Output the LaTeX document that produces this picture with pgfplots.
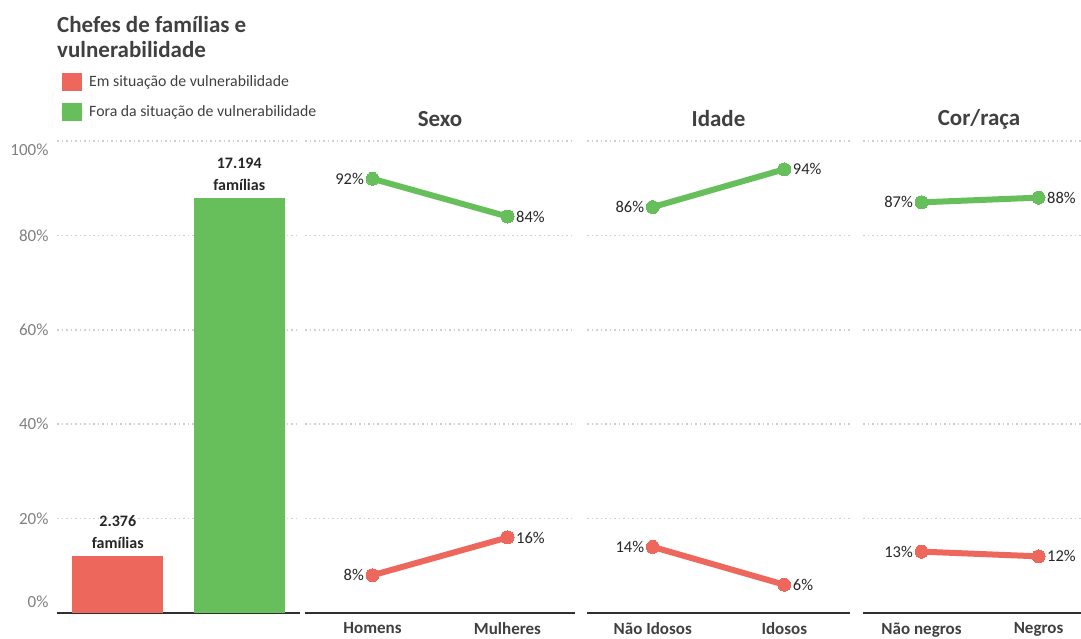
\documentclass[border=0pt]{standalone}
\usepackage{pgfplots}
\pgfplotsset{compat=1.18}
\usepackage{fontspec}
\setmainfont{Carlito}
\definecolor{cred}{HTML}{EE675C}
\definecolor{cgreen}{HTML}{67BF5C}
\definecolor{ctitle}{HTML}{404040}
\definecolor{clabel}{HTML}{262626}
\definecolor{ctick}{HTML}{808080}
\definecolor{cgrid}{HTML}{D0D0D0}
\definecolor{caxis}{HTML}{303030}
\tikzset{lbl/.style={font=\fontsize{16.5}{19}\selectfont, text=clabel, inner sep=0pt}}
\pgfplotsset{
  panel/.style={
    scale only axis, height=472pt, ymin=0, ymax=100, clip=false,
    xmin=-0.5, xmax=1.5,
    axis line style={draw=none}, major tick length=0pt,
    ytick={20,40,60,80,100}, yticklabels={}, ymajorgrids,
    major grid style={cgrid, line width=1.5pt, dash pattern=on 1.5pt off 3pt},
    extra y ticks={0}, extra y tick labels={},
    extra y tick style={major grid style={solid, draw=caxis, line width=2pt}},
    xtick={0,1},
    xticklabel style={font=\fontsize{17}{20}\selectfont\bfseries, text=ctitle, yshift=-6pt},
    yticklabel style={font=\fontsize{17}{20}\selectfont, text=ctick, xshift=-5pt},
    title style={at={(0.5,1)}, anchor=center, yshift=16pt, font=\fontsize{23}{27}\selectfont\bfseries, text=ctitle},
  },
  gline/.style={cgreen, line width=6pt, mark=*, mark size=6.5pt, mark options={solid, fill=cgreen, draw=cgreen, line width=0pt}},
  rline/.style={cred, line width=6pt, mark=*, mark size=6.5pt, mark options={solid, fill=cred, draw=cred, line width=0pt}},
  sqlegend/.style={legend image code/.code={\fill[##1] (0pt,-9pt) rectangle (20pt,9pt);}},
}
\begin{document}
\begin{tikzpicture}
\path[use as bounding box] (0pt,0pt) rectangle (1081pt,639pt);

\node[anchor=north west, inner sep=0pt, align=left, font=\fontsize{23}{25}\selectfont\bfseries, text=ctitle] at (57pt,623pt) {Chefes de famílias e\\vulnerabilidade};

% Bar panel
\begin{axis}[panel, at={(57pt,26pt)}, anchor=south west, width=243pt,
  xtick=\empty, extra y tick labels={\raisebox{5pt}[0pt][0pt]{0\%}},
  ytick={20,40,60,80,100}, yticklabels={20\%,40\%,60\%,80\%,\raisebox{-15pt}[0pt][0pt]{100\%}},
  legend style={at={(0.0206,1.144)}, anchor=north west, draw=none, fill=none, inner sep=0pt,
    font=\fontsize{15.8}{18}\selectfont, text=ctitle, row sep=12pt,
    nodes={inner sep=0pt},
    /tikz/every odd column/.append style={column sep=7pt}},
  legend cell align=left]
\addplot[ybar, bar width=91pt, bar shift=0pt, fill=cred, draw=none, sqlegend] coordinates {(0,12.14)};
\addlegendentry{Em situação de vulnerabilidade}
\addplot[ybar, bar width=91pt, bar shift=0pt, fill=cgreen, draw=none, sqlegend] coordinates {(1,87.86)};
\addlegendentry{Fora da situação de vulnerabilidade}
\node[anchor=south, align=center, inner sep=0pt, yshift=7pt, font=\fontsize{16}{22}\selectfont\bfseries, text=clabel] at (axis cs:0,12.14) {2.376\\famílias};
\node[anchor=south, align=center, inner sep=0pt, yshift=7pt, font=\fontsize{16}{22}\selectfont\bfseries, text=clabel] at (axis cs:1,87.86) {17.194\\famílias};
\end{axis}

% Sexo
\begin{axis}[panel, at={(305pt,26pt)}, anchor=south west, width=270pt,
  title={Sexo}, xticklabels={Homens,Mulheres}]
\addplot[gline] coordinates {(0,92) (1,84)};
\addplot[rline] coordinates {(0,8) (1,16)};
\node[lbl, anchor=east, xshift=-8.5pt] at (axis cs:0,92) {92\%};
\node[lbl, anchor=west, xshift=8.5pt] at (axis cs:1,84) {84\%};
\node[lbl, anchor=east, xshift=-8.5pt] at (axis cs:0,8) {8\%};
\node[lbl, anchor=west, xshift=8.5pt] at (axis cs:1,16) {16\%};
\end{axis}

% Idade
\begin{axis}[panel, at={(587pt,26pt)}, anchor=south west, width=263pt,
  title={Idade}, xticklabels={Não Idosos,Idosos}]
\addplot[gline] coordinates {(0,86) (1,94)};
\addplot[rline] coordinates {(0,14) (1,6)};
\node[lbl, anchor=east, xshift=-8.5pt] at (axis cs:0,86) {86\%};
\node[lbl, anchor=west, xshift=8.5pt] at (axis cs:1,94) {94\%};
\node[lbl, anchor=east, xshift=-8.5pt] at (axis cs:0,14) {14\%};
\node[lbl, anchor=west, xshift=8.5pt] at (axis cs:1,6) {6\%};
\end{axis}

% Cor/raca
\begin{axis}[panel, at={(863pt,26pt)}, anchor=south west, width=218pt,
  xmin=-0.5, xmax=1.363,
  title={Cor/raça}, title style={at={(0.532,1)}}, xticklabels={Não negros,Negros}]
\addplot[gline] coordinates {(0,87) (1,88)};
\addplot[rline] coordinates {(0,13) (1,12)};
\node[lbl, anchor=east, xshift=-8.5pt] at (axis cs:0,87) {87\%};
\node[lbl, anchor=west, xshift=8.5pt] at (axis cs:1,88) {88\%};
\node[lbl, anchor=east, xshift=-8.5pt] at (axis cs:0,13) {13\%};
\node[lbl, anchor=west, xshift=8.5pt] at (axis cs:1,12) {12\%};
\end{axis}
\end{tikzpicture}
\end{document}
